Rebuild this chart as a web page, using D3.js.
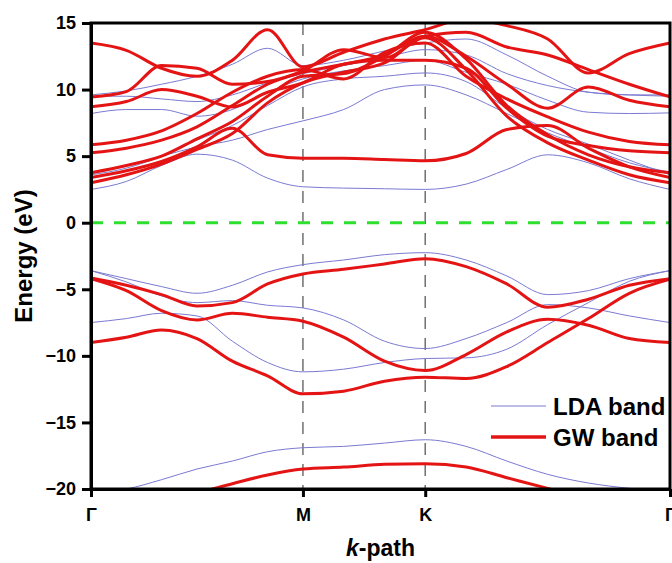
<!DOCTYPE html>
<html>
<head>
<meta charset="utf-8">
<script src="https://cdn.jsdelivr.net/npm/d3@7"></script>
<style>
  body { margin: 0; background: #fff; }
  text { font-family: Arial, "Liberation Sans", sans-serif; font-weight: bold; }
</style>
</head>
<body>
<div id="chart"></div>
<script>
// k-path sample positions (path length units: Γ=0, M=1, K=1.577, Γ=2.732)
const kPoints = [0, 0.167, 0.333, 0.5, 0.667, 0.833, 1, 1.192, 1.385, 1.577, 1.77, 1.962, 2.155, 2.347, 2.54, 2.732];
const kTickPos = [0, 1, 1.577, 2.732];
const kTickLabels = ["Γ", "M", "K", "Γ"];
const energyTicks = [-20, -15, -10, -5, 0, 5, 10, 15];

// LDA bands (eV at each k point)
const ldaBands = [
  [-20.3, -20.0, -19.3, -18.5, -17.9, -17.2, -16.9, -16.8, -16.55, -16.3, -16.8, -17.9, -18.9, -19.55, -19.95, -20.2],
  [-7.5, -7.2, -6.8, -7.0, -8.9, -10.5, -11.2, -11.0, -10.5, -10.2, -10.15, -9.5, -7.65, -6.0, -4.4, -3.6],
  [-3.6, -4.45, -5.5, -6.0, -5.85, -6.2, -6.4, -7.3, -8.9, -9.45, -8.7, -7.5, -6.15, -6.4, -7.0, -7.5],
  [-3.6, -4.2, -4.8, -5.3, -4.7, -3.7, -3.15, -2.8, -2.4, -2.25, -2.8, -4.0, -5.4, -5.1, -4.2, -3.6],
  [2.5, 3.1, 4.3, 5.15, 4.7, 3.35, 2.7, 2.6, 2.55, 2.5, 2.9, 4.0, 5.1, 4.5, 3.3, 2.5],
  [3.8, 4.3, 5.0, 5.7, 6.2, 7.0, 7.65, 8.5, 10.0, 10.35, 9.6, 8.2, 6.75, 5.6, 4.5, 3.8],
  [3.6, 4.1, 5.0, 6.2, 7.3, 8.8, 10.2, 10.8, 11.0, 11.25, 10.6, 8.6, 7.0, 5.9, 4.7, 3.6],
  [8.2, 8.5, 8.5, 8.0, 8.5, 9.8, 10.8, 11.4, 11.8, 12.2, 11.3, 10.4, 9.2, 8.3, 8.2, 8.25],
  [9.5, 9.5, 9.3, 9.1, 9.6, 10.5, 11.2, 11.8, 12.4, 13.0, 12.6, 11.2, 10.3, 9.8, 9.6, 9.5],
  [9.6, 9.9, 10.4, 11.0, 11.9, 13.1, 11.8, 12.2, 12.9, 13.5, 13.8, 12.6, 11.0, 9.8, 9.6, 9.6]
];

// GW bands (eV at each k point)
const gwBands = [
  [-21.5, -21.3, -20.8, -20.3, -19.6, -18.95, -18.5, -18.35, -18.15, -18.1, -18.35, -19.15, -19.95, -20.7, -21.2, -21.5],
  [-9.0, -8.6, -8.05, -8.7, -10.4, -11.5, -12.85, -12.65, -11.9, -11.6, -11.7, -10.8, -9.0, -7.2, -5.3, -4.25],
  [-4.2, -5.1, -6.6, -7.3, -6.8, -7.1, -7.4, -8.6, -10.4, -11.1, -9.9, -8.2, -7.25, -7.7, -8.7, -9.0],
  [-4.15, -4.7, -5.4, -6.25, -6.0, -4.6, -3.85, -3.5, -3.1, -2.7, -3.3, -4.6, -6.35, -5.75, -4.7, -4.2],
  [3.0, 3.6, 4.4, 5.5, 6.7, 9.0, 10.5, 11.3, 12.0, 13.9, 11.5, 8.0, 6.0, 4.7, 3.6, 3.0],
  [3.4, 3.9, 4.6, 5.7, 7.1, 5.1, 4.85, 4.85, 4.75, 4.65, 5.2, 7.0, 7.3, 5.6, 4.2, 3.4],
  [3.75, 4.3, 5.0, 6.3, 7.6, 9.5, 11.0, 11.2, 12.5, 14.3, 12.3, 8.8, 6.6, 5.1, 4.2, 3.75],
  [5.25, 5.6, 6.2, 7.2, 8.8, 10.4, 11.3, 11.9, 12.6, 14.0, 12.5, 10.4, 8.6, 10.2, 9.2, 8.7],
  [5.85, 6.2, 6.9, 8.2, 9.8, 11.0, 11.5, 10.8, 12.8, 13.5, 11.0, 9.3, 7.95, 6.8, 6.1, 5.85],
  [8.7, 9.1, 10.0, 9.5, 8.7, 9.8, 10.5, 11.9, 12.2, 12.2, 11.6, 8.6, 6.5, 5.8, 5.4, 5.25],
  [9.45, 9.85, 11.8, 11.6, 10.4, 10.6, 11.4, 13.0, 12.4, 14.0, 14.3, 13.2, 12.6, 11.5, 10.4, 9.45],
  [13.5, 12.95, 11.6, 11.0, 12.2, 14.5, 11.7, 12.8, 13.8, 14.5, 15.3, 14.8, 13.8, 11.25, 12.7, 13.5]
];

const legendItems = ["LDA band", "GW band"];

const W = 672, H = 563;
const margin = {top: 23, right: 2, bottom: 74, left: 91};
const width = W - margin.left - margin.right,
      height = H - margin.top - margin.bottom;

const svg = d3.select("#chart")
  .append("svg")
  .attr("width", W)
  .attr("height", H);

const g = svg.append("g")
  .attr("transform", `translate(${margin.left},${margin.top})`);

const x = d3.scaleLinear().domain([0, 2.732]).range([0, width]);
const y = d3.scaleLinear().domain([-20, 15]).range([height, 0]);

g.append("clipPath").attr("id", "clip")
  .append("rect").attr("width", width).attr("height", height);

// high-symmetry guide lines
g.selectAll(".kline")
  .data(kTickPos.slice(1, 3))
  .enter().append("line")
  .attr("x1", d => x(d)).attr("x2", d => x(d))
  .attr("y1", 0).attr("y2", height)
  .attr("stroke", "#707070")
  .attr("stroke-width", 1.5)
  .attr("stroke-dasharray", "12,9");

// Fermi level
g.append("line")
  .attr("x1", 0).attr("x2", width)
  .attr("y1", y(0)).attr("y2", y(0))
  .attr("stroke", "#2ee02e")
  .attr("stroke-width", 3)
  .attr("stroke-dasharray", "12,11");

const line = d3.line()
  .x((d, i) => x(kPoints[i]))
  .y(d => y(d))
  .curve(d3.curveMonotoneX);

const bands = g.append("g").attr("clip-path", "url(#clip)");

bands.selectAll(".lda")
  .data(ldaBands)
  .enter().append("path")
  .attr("d", line)
  .attr("fill", "none")
  .attr("stroke", "#7a7ad2")
  .attr("stroke-width", 1);

bands.selectAll(".gw")
  .data(gwBands)
  .enter().append("path")
  .attr("d", line)
  .attr("fill", "none")
  .attr("stroke", "#e41414")
  .attr("stroke-width", 3);

// frame
g.append("rect")
  .attr("width", width).attr("height", height)
  .attr("fill", "none")
  .attr("stroke", "#000")
  .attr("stroke-width", 3);

const yAxis = g.append("g")
  .call(d3.axisLeft(y).tickValues(energyTicks).tickSize(9).tickPadding(6).tickSizeOuter(0));
const xAxis = g.append("g")
  .attr("transform", `translate(0,${height})`)
  .call(d3.axisBottom(x).tickValues(kTickPos).tickFormat((d, i) => kTickLabels[i]).tickSize(8).tickPadding(11).tickSizeOuter(0));

[yAxis, xAxis].forEach(a => {
  a.select(".domain").attr("stroke-width", 3);
  a.selectAll(".tick line").attr("stroke-width", 3);
  a.selectAll(".tick text").attr("font-size", 18).attr("font-family", "Arial, 'Liberation Sans', sans-serif").attr("font-weight", "bold").attr("fill", "#000");
});

// axis titles
svg.append("text")
  .attr("transform", `translate(32,${margin.top + height / 2}) rotate(-90)`)
  .attr("text-anchor", "middle")
  .attr("font-size", 24)
  .text("Energy (eV)");

const xt = svg.append("text")
  .attr("x", margin.left + width / 2)
  .attr("y", 556)
  .attr("text-anchor", "middle")
  .attr("font-size", 23);
xt.append("tspan").attr("font-style", "italic").text("k");
xt.append("tspan").text("-path");

// legend
const legend = svg.append("g").attr("transform", "translate(491,406)");
legendItems.forEach((name, i) => {
  const row = legend.append("g").attr("transform", `translate(0,${i * 31})`);
  row.append("line")
    .attr("x1", 0).attr("x2", 55)
    .attr("stroke", i === 0 ? "#7a7ad2" : "#e41414")
    .attr("stroke-width", i === 0 ? 1 : 3.5);
  row.append("text")
    .attr("x", 62).attr("y", 8.5)
    .attr("font-size", 24)
    .text(name);
});
</script>
</body>
</html>
